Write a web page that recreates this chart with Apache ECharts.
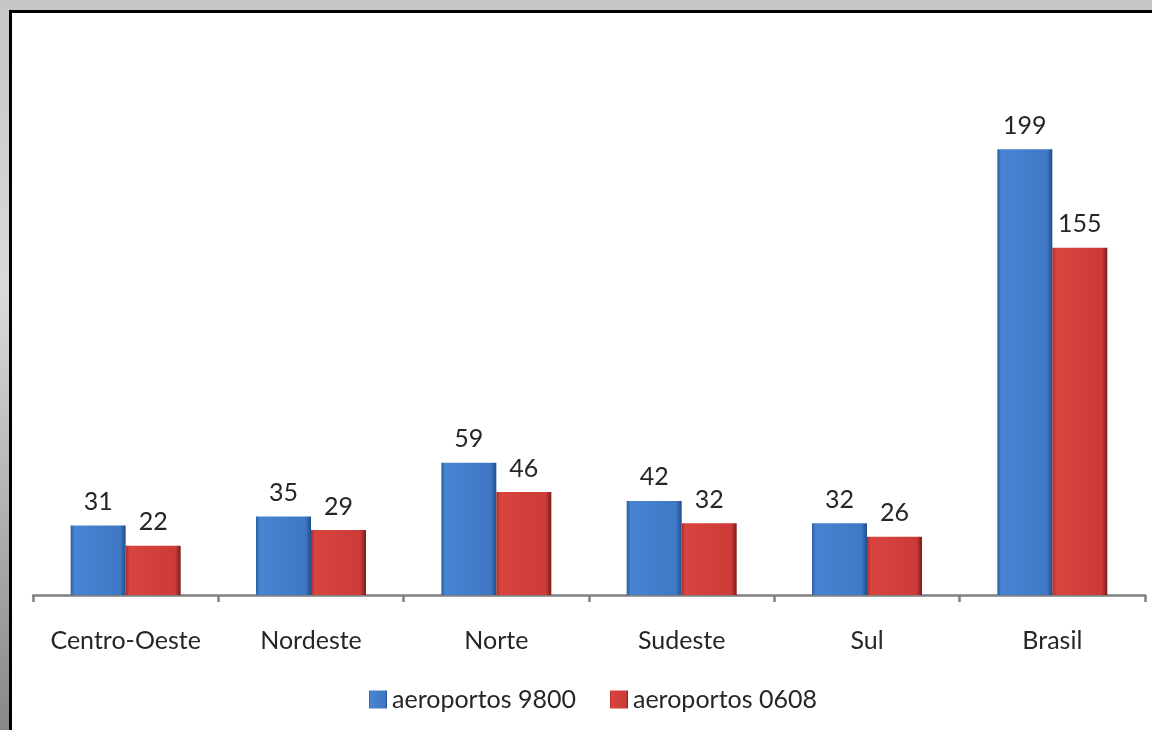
<!DOCTYPE html>
<html>
<head>
<meta charset="utf-8">
<script src="https://cdn.jsdelivr.net/npm/echarts@6/dist/echarts.min.js"></script>
<style>
  html, body { margin: 0; padding: 0; }
  #chart { width: 1152px; height: 730px; }
</style>
</head>
<body>
<div id="chart"></div>
<script>
// Airports per region, two periods
const categories = ['Centro-Oeste', 'Nordeste', 'Norte', 'Sudeste', 'Sul', 'Brasil'];
const seriesNames = ['aeroportos 9800', 'aeroportos 0608'];
const aeroportos9800 = [31, 35, 59, 42, 32, 199];
const aeroportos0608 = [22, 29, 46, 32, 26, 155];

const FONT = 'Lato, "Open Sans", sans-serif';
const TEXT = '#262626';

// bevelled look: dark edges, lighter body
function bevel(edgeL, body, bodyR, edgeR) {
  return new echarts.graphic.LinearGradient(0, 0, 1, 0, [
    { offset: 0, color: edgeL },
    { offset: 0.07, color: body },
    { offset: 0.9, color: bodyR },
    { offset: 1, color: edgeR }
  ]);
}
const blueFill = bevel('#2c5f9f', '#4784d2', '#3f78c4', '#1f4d8a');
const redFill = bevel('#a92d2b', '#d9443f', '#cc3b38', '#7a1b1b');

const chart = echarts.init(document.getElementById('chart'), null, { renderer: 'canvas' });

const valueLabel = {
  show: true,
  position: 'top',
  distance: 11,
  fontFamily: FONT,
  fontSize: 25,
  color: TEXT
};

chart.setOption({
  animation: false,
  backgroundColor: new echarts.graphic.LinearGradient(0, 0, 0, 1, [
    { offset: 0, color: '#c6c6c6' },
    { offset: 0.4, color: '#dadada' },
    { offset: 1, color: '#888888' }
  ]),
  graphic: [{
    type: 'rect',
    z: -10,
    shape: { x: 10.5, y: 11.5, width: 1200, height: 800 },
    style: { fill: '#ffffff', stroke: '#000000', lineWidth: 3 }
  }],
  grid: { left: 33, right: 7, top: 35, bottom: 135, containLabel: false },
  legend: {
    data: seriesNames,
    left: 364,
    top: 682,
    itemWidth: 18,
    itemHeight: 18,
    itemGap: 34,
    icon: 'rect',
    textStyle: { fontFamily: FONT, fontSize: 25, color: TEXT }
  },
  xAxis: {
    type: 'category',
    data: categories,
    axisLine: { lineStyle: { color: '#808080', width: 2.5 } },
    axisTick: { show: true, interval: 0, length: 7, lineStyle: { color: '#808080', width: 2.5 } },
    axisLabel: { interval: 0, margin: 33, fontFamily: FONT, fontSize: 25, color: TEXT }
  },
  yAxis: {
    type: 'value',
    min: 0,
    max: 250,
    show: false,
    splitLine: { show: false }
  },
  series: [
    {
      name: seriesNames[0],
      type: 'bar',
      data: aeroportos9800,
      barWidth: 55,
      barGap: '0%',
      itemStyle: { color: blueFill },
      label: valueLabel
    },
    {
      name: seriesNames[1],
      type: 'bar',
      data: aeroportos0608,
      barWidth: 55,
      barGap: '0%',
      itemStyle: { color: redFill },
      label: valueLabel
    }
  ]
});
</script>
</body>
</html>
